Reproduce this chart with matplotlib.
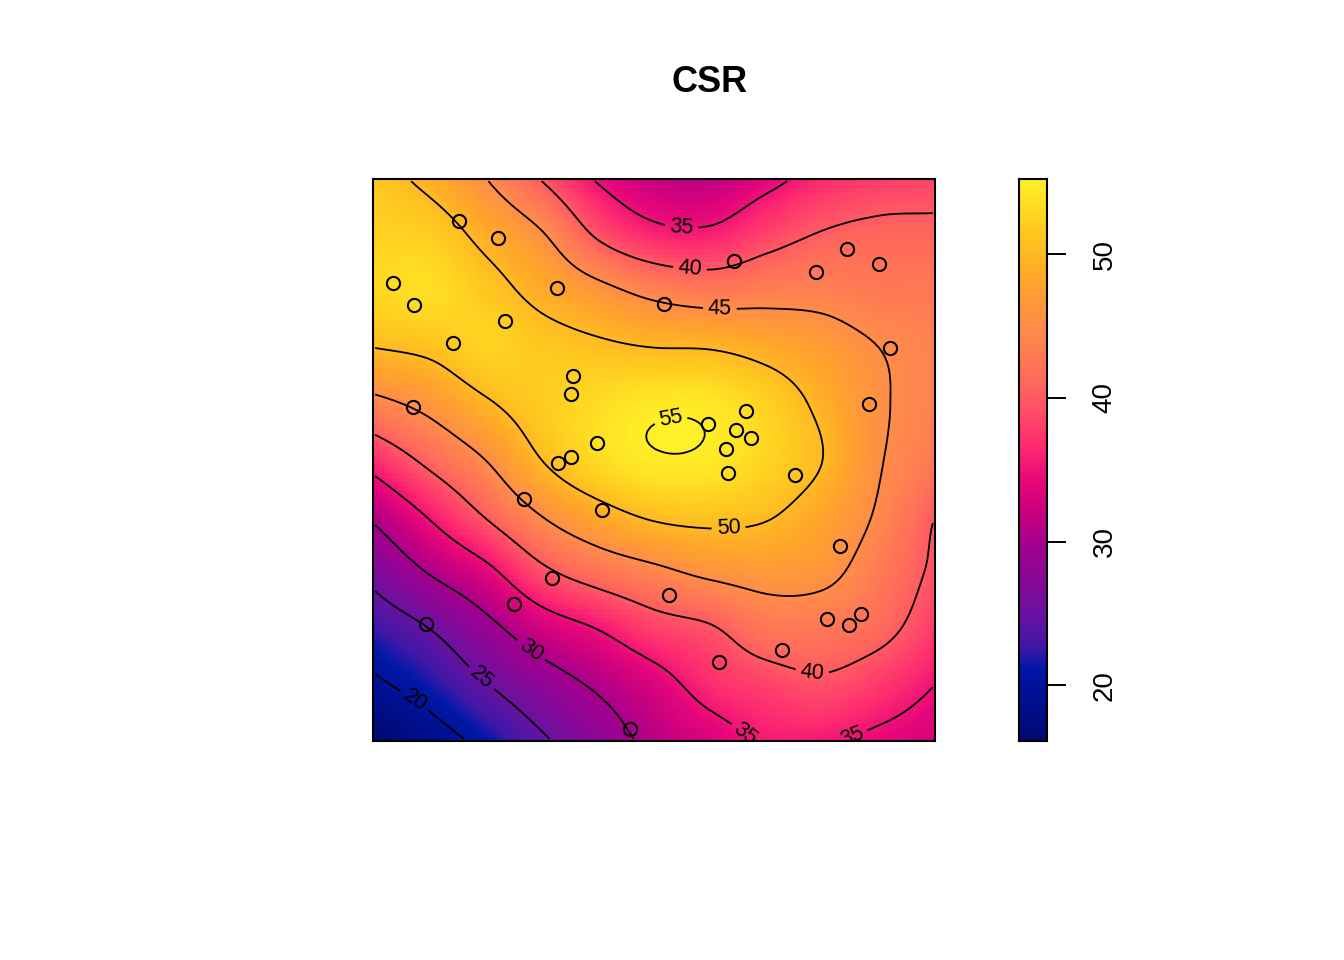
# CSR: smoothed surface with contours, sample points and a colour ribbon
import numpy as np
import matplotlib as mpl
mpl.use('Agg')
import matplotlib.pyplot as plt
from matplotlib.colors import LinearSegmentedColormap

plt.rcParams['font.family'] = ['Liberation Sans', 'DejaVu Sans']

# Surface values on an 11 x 11 grid over the unit square.
# Rows go from the top edge (y = 1) down to the bottom edge (y = 0),
# columns from x = 0 to x = 1 in steps of 0.1.
grid_x = [0.0, 0.1, 0.2, 0.3, 0.4, 0.5, 0.6, 0.7, 0.8, 0.9, 1.0]
grid_y = [0.0, 0.1, 0.2, 0.3, 0.4, 0.5, 0.6, 0.7, 0.8, 0.9, 1.0]
z_top_down = [
    [51.5, 49.0, 45.1, 39.8, 34.6, 31.8, 31.4, 33.8, 36.5, 37.8, 38.3],
    [52.5, 52.0, 48.9, 45.4, 39.5, 36.3, 35.9, 38.4, 40.3, 41.0, 41.0],
    [52.8, 53.5, 51.5, 48.8, 46.3, 43.9, 42.8, 43.4, 43.6, 42.7, 42.8],
    [50.0, 50.8, 52.5, 51.5, 50.7, 50.0, 49.8, 48.6, 47.0, 45.0, 43.6],
    [43.8, 46.2, 49.5, 51.8, 53.3, 54.4, 54.3, 52.3, 49.1, 45.5, 43.6],
    [36.7, 41.0, 45.0, 50.0, 53.2, 54.7, 54.5, 52.6, 50.0, 45.3, 42.8],
    [30.6, 35.3, 40.2, 45.0, 48.3, 50.5, 51.0, 50.3, 47.9, 44.5, 40.0],
    [26.2, 30.2, 33.8, 39.0, 42.0, 44.0, 45.8, 46.5, 46.0, 42.9, 39.3],
    [22.4, 25.0, 28.7, 32.6, 35.1, 38.1, 39.6, 42.5, 42.5, 41.2, 37.8],
    [19.3, 21.6, 24.8, 27.9, 30.6, 33.3, 36.6, 38.2, 39.3, 37.6, 35.0],
    [15.9, 18.2, 21.0, 24.4, 27.7, 31.0, 33.0, 35.4, 35.3, 34.0, 32.8],
]

# Point pattern (unit square coordinates)
pts_x = [0.153, 0.222, 0.036, 0.073, 0.327, 0.235, 0.142, 0.518, 0.642, 0.788,
         0.843, 0.900, 0.920, 0.356, 0.352, 0.071, 0.883, 0.664, 0.596, 0.646,
         0.673, 0.399, 0.628, 0.352, 0.329, 0.632, 0.751, 0.269, 0.407, 0.831,
         0.319, 0.527, 0.251, 0.808, 0.868, 0.847, 0.094, 0.728, 0.616, 0.457]
pts_y = [0.925, 0.895, 0.815, 0.776, 0.806, 0.747, 0.708, 0.778, 0.854, 0.835,
         0.875, 0.849, 0.699, 0.649, 0.617, 0.594, 0.600, 0.587, 0.564, 0.553,
         0.539, 0.530, 0.520, 0.505, 0.495, 0.477, 0.473, 0.431, 0.411, 0.347,
         0.290, 0.260, 0.244, 0.217, 0.226, 0.206, 0.208, 0.162, 0.141, 0.021]

levels = [20, 25, 30, 35, 40, 45, 50, 55]
# where the contour labels sit
label_pos = [(0.071, 0.068), (0.190, 0.109), (0.279, 0.158), (0.664, 0.014),
             (0.851, 0.011), (0.550, 0.927), (0.564, 0.842), (0.781, 0.117),
             (0.617, 0.763), (0.633, 0.370), (0.532, 0.557)]
ribbon_ticks = [20, 30, 40, 50]

cmap = LinearSegmentedColormap.from_list('rplasma', [
    (0.000, '#000a70'), (0.075, '#001090'), (0.128, '#0018a8'),
    (0.165, '#4018a8'), (0.226, '#6a12a0'), (0.285, '#880898'),
    (0.342, '#a00090'), (0.404, '#c80080'), (0.463, '#e8087a'),
    (0.522, '#fd2a70'), (0.581, '#ff4a68'), (0.640, '#ff6a5c'),
    (0.730, '#ff8a4c'), (0.820, '#ffa62a'), (0.905, '#ffc820'),
    (1.000, '#fff028')])


def catmull_rom(vals, t):
    # cubic through the grid values along the last axis, t in index units
    v = np.concatenate([2 * vals[..., :1] - vals[..., 1:2], vals,
                        2 * vals[..., -1:] - vals[..., -2:-1]], axis=-1)
    i = np.clip(np.floor(t).astype(int), 0, vals.shape[-1] - 2)
    u = t - i
    p0, p1, p2, p3 = v[..., i], v[..., i + 1], v[..., i + 2], v[..., i + 3]
    return 0.5 * (2 * p1 + (p2 - p0) * u + (2 * p0 - 5 * p1 + 4 * p2 - p3) * u ** 2
                  + (3 * p1 - p0 - 3 * p2 + p3) * u ** 3)


z = np.flipud(np.array(z_top_down))
npix = 128
centres = (np.arange(npix) + 0.5) / npix
tx = np.interp(centres, grid_x, np.arange(len(grid_x)))
ty = np.interp(centres, grid_y, np.arange(len(grid_y)))
Z = catmull_rom(catmull_rom(z, tx).T, ty).T
vmin, vmax = Z.min(), Z.max()

fig = plt.figure(figsize=(13.44, 9.6), dpi=100, facecolor='white')
ax = fig.add_axes([373 / 1344, 219 / 960, 562 / 1344, 562 / 960])
ax.imshow(Z, origin='lower', extent=(0, 1, 0, 1), cmap=cmap, vmin=vmin, vmax=vmax,
          interpolation='nearest', aspect='auto')
cs = ax.contour(centres, centres, Z, levels=levels, colors='black', linewidths=1.3)
ax.clabel(cs, fmt='%d', fontsize=15.5, inline=True, inline_spacing=5, manual=label_pos)
ax.plot(pts_x, pts_y, 'o', mfc='none', mec='black', ms=9.5, mew=1.5)
ax.set_xlim(0, 1)
ax.set_ylim(0, 1)
ax.set_xticks([])
ax.set_yticks([])
for s in ax.spines.values():
    s.set_linewidth(1.5)

# colour ribbon
cax = fig.add_axes([1019 / 1344, 219 / 960, 28 / 1344, 562 / 960])
cax.imshow(np.linspace(vmin, vmax, 256)[:, None], origin='lower',
           extent=(0, 1, vmin, vmax), cmap=cmap, vmin=vmin, vmax=vmax, aspect='auto')
cax.set_xlim(0, 1)
cax.set_ylim(vmin, vmax)
cax.set_xticks([])
cax.yaxis.tick_right()
cax.set_yticks(ribbon_ticks)
cax.set_yticklabels([str(v) for v in ribbon_ticks], rotation=90, va='center', fontsize=20)
cax.tick_params(axis='y', length=14, width=1.4, pad=18)
for s in cax.spines.values():
    s.set_linewidth(1.5)

fig.text(710 / 1344, 1 - 83 / 960, 'CSR', fontsize=26, fontweight='bold',
         ha='center', va='center')

plt.savefig('out.png', dpi=100, facecolor='white')
plt.close()
